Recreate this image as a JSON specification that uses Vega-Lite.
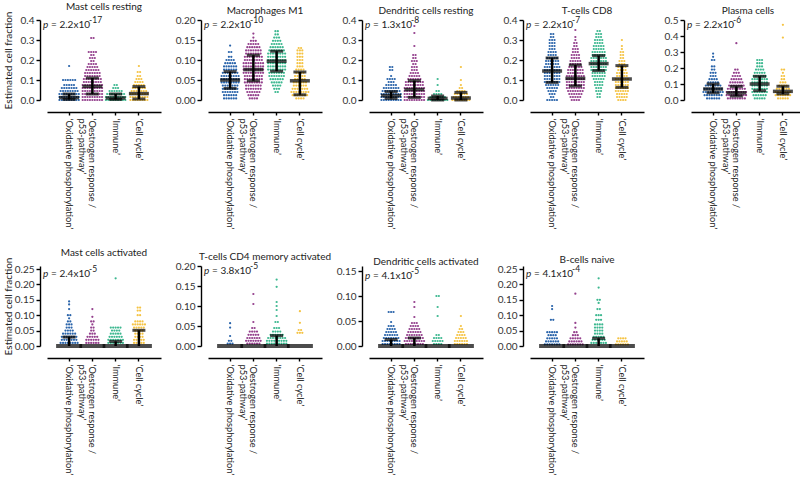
{
"$schema":"https://vega.github.io/schema/vega-lite/v6.json",
"padding":{"left":3,"top":2,"right":0,"bottom":0},
"autosize":{"type":"pad"},
"background":"white",
"datasets":{
"meta":[
{"p":"MR","base":"= 2.2x10","ex":"-17"},
{"p":"MD","base":"= 2.2x10","ex":"-10"},
{"p":"DR","base":"= 1.3x10","ex":"-8"},
{"p":"TC8","base":"= 2.2x10","ex":"-7"},
{"p":"PC","base":"= 2.2x10","ex":"-6"},
{"p":"MA","base":"= 2.4x10","ex":"-5"},
{"p":"TCM","base":"= 3.8x10","ex":"-5"},
{"p":"DA","base":"= 4.1x10","ex":"-5"},
{"p":"BN","base":"= 4.1x10","ex":"-4"}
],
"st":[
{"p":"MR","g":"O","q1":0.003,"med":0.012,"q3":0.03},
{"p":"MR","g":"E","q1":0.03,"med":0.068,"q3":0.11},
{"p":"MR","g":"I","q1":0.003,"med":0.01,"q3":0.03},
{"p":"MR","g":"C","q1":0.005,"med":0.032,"q3":0.067},
{"p":"MD","g":"O","q1":0.029,"med":0.05,"q3":0.071},
{"p":"MD","g":"E","q1":0.048,"med":0.076,"q3":0.112},
{"p":"MD","g":"I","q1":0.072,"med":0.097,"q3":0.122},
{"p":"MD","g":"C","q1":0.013,"med":0.048,"q3":0.07},
{"p":"DR","g":"O","q1":0.008,"med":0.022,"q3":0.042},
{"p":"DR","g":"E","q1":0.013,"med":0.052,"q3":0.097},
{"p":"DR","g":"I","q1":0,"med":0.008,"q3":0.02},
{"p":"DR","g":"C","q1":0,"med":0.01,"q3":0.038},
{"p":"TC8","g":"O","q1":0.088,"med":0.145,"q3":0.21},
{"p":"TC8","g":"E","q1":0.07,"med":0.108,"q3":0.175},
{"p":"TC8","g":"I","q1":0.147,"med":0.182,"q3":0.222},
{"p":"TC8","g":"C","q1":0.063,"med":0.105,"q3":0.172},
{"p":"PC","g":"O","q1":0.045,"med":0.068,"q3":0.1},
{"p":"PC","g":"E","q1":0.025,"med":0.045,"q3":0.085},
{"p":"PC","g":"I","q1":0.058,"med":0.1,"q3":0.148},
{"p":"PC","g":"C","q1":0.038,"med":0.054,"q3":0.086},
{"p":"MA","g":"O","q1":0,"med":0,"q3":0.029},
{"p":"MA","g":"E","q1":0,"med":0,"q3":0},
{"p":"MA","g":"I","q1":0,"med":0,"q3":0.015},
{"p":"MA","g":"C","q1":0,"med":0,"q3":0.051},
{"p":"TCM","g":"O","q1":0,"med":0,"q3":0},
{"p":"TCM","g":"E","q1":0,"med":0,"q3":0},
{"p":"TCM","g":"I","q1":0,"med":0,"q3":0.026},
{"p":"TCM","g":"C","q1":0,"med":0,"q3":0},
{"p":"DA","g":"O","q1":0,"med":0,"q3":0.013},
{"p":"DA","g":"E","q1":0,"med":0,"q3":0.016},
{"p":"DA","g":"I","q1":0,"med":0,"q3":0},
{"p":"DA","g":"C","q1":0,"med":0,"q3":0},
{"p":"BN","g":"O","q1":0,"med":0,"q3":0},
{"p":"BN","g":"E","q1":0,"med":0,"q3":0},
{"p":"BN","g":"I","q1":0,"med":0,"q3":0.025},
{"p":"BN","g":"C","q1":0,"med":0,"q3":0}
],
"pts":[
{"p":"MR","g":"O","v":[0,0,0,0,0,0,0,0,0,0.015,0.015,0.015,0.015,0.015,0.015,0.015,0.015,0.015,0.03,0.03,0.03,0.03,0.03,0.03,0.03,0.03,0.03,0.045,0.045,0.045,0.045,0.045,0.045,0.045,0.045,0.06,0.06,0.06,0.06,0.06,0.06,0.06,0.075,0.075,0.075,0.075,0.075,0.1,0.1,0.1,0.1,0.1,0.1,0.17]},
{"p":"MR","g":"E","v":[0,0,0,0,0,0,0,0,0,0.015,0.015,0.015,0.015,0.015,0.015,0.015,0.015,0.015,0.03,0.03,0.03,0.03,0.03,0.03,0.03,0.03,0.03,0.045,0.045,0.045,0.045,0.045,0.045,0.045,0.045,0.045,0.06,0.06,0.06,0.06,0.06,0.06,0.06,0.06,0.06,0.075,0.075,0.075,0.075,0.075,0.075,0.075,0.075,0.075,0.09,0.09,0.09,0.09,0.09,0.09,0.09,0.09,0.105,0.105,0.105,0.105,0.105,0.105,0.105,0.105,0.12,0.12,0.12,0.12,0.12,0.12,0.12,0.135,0.135,0.135,0.135,0.135,0.135,0.135,0.15,0.15,0.15,0.15,0.15,0.15,0.165,0.165,0.165,0.165,0.165,0.18,0.18,0.18,0.18,0.195,0.195,0.21,0.21,0.21,0.225,0.225,0.24,0.24,0.24,0.24,0.31,0.31]},
{"p":"MR","g":"I","v":[0,0,0,0,0,0,0,0,0,0.015,0.015,0.015,0.015,0.015,0.015,0.015,0.015,0.015,0.03,0.03,0.03,0.03,0.03,0.03,0.03,0.03,0.045,0.045,0.045,0.045,0.045,0.045,0.06,0.06,0.06,0.075,0.075]},
{"p":"MR","g":"C","v":[0,0,0,0,0,0,0,0,0.015,0.015,0.015,0.015,0.015,0.015,0.015,0.015,0.03,0.03,0.03,0.03,0.03,0.03,0.03,0.03,0.045,0.045,0.045,0.045,0.045,0.045,0.045,0.06,0.06,0.06,0.06,0.06,0.06,0.075,0.075,0.075,0.075,0.075,0.09,0.09,0.09,0.09,0.105,0.105,0.105,0.12,0.12,0.14,0.14,0.17]},
{"p":"MD","g":"O","v":[0.004,0.004,0.004,0.004,0.004,0.004,0.012,0.012,0.012,0.012,0.012,0.012,0.02,0.02,0.02,0.02,0.02,0.02,0.02,0.028,0.028,0.028,0.028,0.028,0.028,0.028,0.036,0.036,0.036,0.036,0.036,0.036,0.036,0.044,0.044,0.044,0.044,0.044,0.044,0.044,0.044,0.052,0.052,0.052,0.052,0.052,0.052,0.052,0.052,0.06,0.06,0.06,0.06,0.06,0.06,0.06,0.06,0.068,0.068,0.068,0.068,0.068,0.068,0.068,0.076,0.076,0.076,0.076,0.076,0.076,0.084,0.084,0.084,0.084,0.084,0.084,0.092,0.092,0.092,0.092,0.092,0.1,0.1,0.1,0.1,0.108,0.108,0.12,0.12,0.136]},
{"p":"MD","g":"E","v":[0.004,0.004,0.004,0.004,0.012,0.012,0.012,0.012,0.012,0.02,0.02,0.02,0.02,0.02,0.02,0.028,0.028,0.028,0.028,0.028,0.028,0.028,0.036,0.036,0.036,0.036,0.036,0.036,0.036,0.044,0.044,0.044,0.044,0.044,0.044,0.044,0.044,0.052,0.052,0.052,0.052,0.052,0.052,0.052,0.052,0.06,0.06,0.06,0.06,0.06,0.06,0.06,0.06,0.068,0.068,0.068,0.068,0.068,0.068,0.068,0.068,0.068,0.076,0.076,0.076,0.076,0.076,0.076,0.076,0.076,0.076,0.084,0.084,0.084,0.084,0.084,0.084,0.084,0.084,0.084,0.092,0.092,0.092,0.092,0.092,0.092,0.092,0.092,0.092,0.1,0.1,0.1,0.1,0.1,0.1,0.1,0.1,0.108,0.108,0.108,0.108,0.108,0.108,0.108,0.108,0.116,0.116,0.116,0.116,0.116,0.116,0.116,0.124,0.124,0.124,0.124,0.124,0.124,0.124,0.132,0.132,0.132,0.132,0.132,0.132,0.14,0.14,0.14,0.14,0.14,0.148,0.148,0.148,0.156,0.166]},
{"p":"MD","g":"I","v":[0.02,0.02,0.028,0.028,0.028,0.036,0.036,0.036,0.036,0.044,0.044,0.044,0.044,0.044,0.052,0.052,0.052,0.052,0.052,0.052,0.06,0.06,0.06,0.06,0.06,0.06,0.06,0.068,0.068,0.068,0.068,0.068,0.068,0.068,0.076,0.076,0.076,0.076,0.076,0.076,0.076,0.076,0.084,0.084,0.084,0.084,0.084,0.084,0.084,0.084,0.092,0.092,0.092,0.092,0.092,0.092,0.092,0.092,0.1,0.1,0.1,0.1,0.1,0.1,0.1,0.1,0.108,0.108,0.108,0.108,0.108,0.108,0.108,0.108,0.116,0.116,0.116,0.116,0.116,0.116,0.116,0.116,0.124,0.124,0.124,0.124,0.124,0.124,0.124,0.132,0.132,0.132,0.132,0.132,0.132,0.14,0.14,0.14,0.14,0.14,0.148,0.148,0.148,0.148,0.156,0.156,0.156,0.164,0.164,0.172,0.172]},
{"p":"MD","g":"C","v":[0.004,0.004,0.004,0.004,0.012,0.012,0.012,0.012,0.012,0.012,0.012,0.02,0.02,0.02,0.02,0.02,0.02,0.02,0.02,0.028,0.028,0.028,0.028,0.028,0.028,0.028,0.036,0.036,0.036,0.036,0.036,0.036,0.044,0.044,0.044,0.044,0.044,0.044,0.052,0.052,0.052,0.052,0.052,0.06,0.06,0.06,0.06,0.06,0.068,0.068,0.068,0.068,0.076,0.076,0.076,0.076,0.084,0.084,0.084,0.092,0.092,0.092,0.1,0.1,0.1,0.108,0.108,0.108,0.116,0.116,0.116,0.124,0.124,0.124,0.13,0.13]},
{"p":"DR","g":"O","v":[0,0,0,0,0,0,0,0,0,0.015,0.015,0.015,0.015,0.015,0.015,0.015,0.015,0.015,0.03,0.03,0.03,0.03,0.03,0.03,0.03,0.03,0.03,0.045,0.045,0.045,0.045,0.045,0.045,0.045,0.045,0.06,0.06,0.06,0.06,0.06,0.06,0.06,0.075,0.075,0.075,0.075,0.075,0.09,0.09,0.09,0.105,0.105,0.105,0.105,0.12,0.15,0.15,0.165,0.165]},
{"p":"DR","g":"E","v":[0,0,0,0,0,0,0,0,0,0.015,0.015,0.015,0.015,0.015,0.015,0.015,0.015,0.015,0.03,0.03,0.03,0.03,0.03,0.03,0.03,0.03,0.03,0.045,0.045,0.045,0.045,0.045,0.045,0.045,0.045,0.045,0.06,0.06,0.06,0.06,0.06,0.06,0.06,0.06,0.06,0.075,0.075,0.075,0.075,0.075,0.075,0.075,0.075,0.09,0.09,0.09,0.09,0.09,0.09,0.09,0.09,0.105,0.105,0.105,0.105,0.105,0.105,0.12,0.12,0.12,0.12,0.12,0.135,0.135,0.135,0.135,0.15,0.15,0.15,0.165,0.165,0.165,0.18,0.18,0.195,0.195,0.195,0.21,0.21,0.225,0.225,0.27,0.335,0.37]},
{"p":"DR","g":"I","v":[0,0,0,0,0,0,0,0,0,0.015,0.015,0.015,0.015,0.015,0.015,0.015,0.03,0.03,0.03,0.03,0.045,0.045,0.075,0.105]},
{"p":"DR","g":"C","v":[0,0,0,0,0,0,0,0,0.015,0.015,0.015,0.015,0.015,0.015,0.015,0.03,0.03,0.03,0.03,0.03,0.03,0.045,0.045,0.045,0.045,0.06,0.06,0.075,0.1,0.165]},
{"p":"TC8","g":"O","v":[0,0,0,0,0,0.015,0.015,0.03,0.03,0.03,0.045,0.045,0.045,0.045,0.06,0.06,0.06,0.06,0.06,0.075,0.075,0.075,0.075,0.075,0.075,0.09,0.09,0.09,0.09,0.09,0.09,0.09,0.105,0.105,0.105,0.105,0.105,0.105,0.105,0.12,0.12,0.12,0.12,0.12,0.12,0.12,0.135,0.135,0.135,0.135,0.135,0.135,0.135,0.15,0.15,0.15,0.15,0.15,0.15,0.15,0.165,0.165,0.165,0.165,0.165,0.165,0.165,0.18,0.18,0.18,0.18,0.18,0.18,0.195,0.195,0.195,0.195,0.195,0.195,0.21,0.21,0.21,0.21,0.21,0.225,0.225,0.225,0.225,0.24,0.24,0.24,0.24,0.255,0.255,0.255,0.27,0.27,0.27,0.285,0.285,0.285,0.3,0.3,0.3,0.315,0.315,0.33,0.33]},
{"p":"TC8","g":"E","v":[0,0,0,0,0.015,0.015,0.015,0.015,0.015,0.03,0.03,0.03,0.03,0.03,0.03,0.045,0.045,0.045,0.045,0.045,0.045,0.045,0.06,0.06,0.06,0.06,0.06,0.06,0.06,0.06,0.075,0.075,0.075,0.075,0.075,0.075,0.075,0.075,0.09,0.09,0.09,0.09,0.09,0.09,0.09,0.09,0.105,0.105,0.105,0.105,0.105,0.105,0.105,0.105,0.12,0.12,0.12,0.12,0.12,0.12,0.12,0.12,0.135,0.135,0.135,0.135,0.135,0.135,0.135,0.15,0.15,0.15,0.15,0.15,0.15,0.15,0.165,0.165,0.165,0.165,0.165,0.165,0.18,0.18,0.18,0.18,0.18,0.195,0.195,0.195,0.195,0.195,0.21,0.21,0.21,0.21,0.225,0.225,0.225,0.225,0.24,0.24,0.24,0.255,0.255,0.255,0.27,0.27,0.285,0.285,0.3,0.315,0.35]},
{"p":"TC8","g":"I","v":[0.015,0.015,0.03,0.03,0.045,0.045,0.045,0.06,0.06,0.06,0.075,0.075,0.075,0.075,0.09,0.09,0.09,0.09,0.105,0.105,0.105,0.105,0.105,0.12,0.12,0.12,0.12,0.12,0.12,0.135,0.135,0.135,0.135,0.135,0.135,0.15,0.15,0.15,0.15,0.15,0.15,0.15,0.165,0.165,0.165,0.165,0.165,0.165,0.165,0.18,0.18,0.18,0.18,0.18,0.18,0.18,0.195,0.195,0.195,0.195,0.195,0.195,0.195,0.21,0.21,0.21,0.21,0.21,0.21,0.21,0.225,0.225,0.225,0.225,0.225,0.225,0.24,0.24,0.24,0.24,0.24,0.24,0.255,0.255,0.255,0.255,0.255,0.27,0.27,0.27,0.27,0.27,0.285,0.285,0.285,0.285,0.3,0.3,0.3,0.3,0.315,0.315,0.315,0.33,0.33,0.33,0.345,0.345]},
{"p":"TC8","g":"C","v":[0,0,0,0,0.015,0.015,0.015,0.015,0.015,0.03,0.03,0.03,0.03,0.03,0.045,0.045,0.045,0.045,0.045,0.045,0.06,0.06,0.06,0.06,0.06,0.06,0.075,0.075,0.075,0.075,0.075,0.075,0.09,0.09,0.09,0.09,0.09,0.09,0.105,0.105,0.105,0.105,0.105,0.105,0.12,0.12,0.12,0.12,0.12,0.135,0.135,0.135,0.135,0.135,0.15,0.15,0.15,0.15,0.165,0.165,0.165,0.165,0.18,0.18,0.18,0.195,0.195,0.195,0.21,0.21,0.225,0.225,0.24,0.24,0.255,0.27,0.3]},
{"p":"PC","g":"O","v":[0.01,0.01,0.01,0.01,0.01,0.01,0.03,0.03,0.03,0.03,0.03,0.03,0.03,0.03,0.05,0.05,0.05,0.05,0.05,0.05,0.05,0.05,0.05,0.07,0.07,0.07,0.07,0.07,0.07,0.07,0.07,0.09,0.09,0.09,0.09,0.09,0.09,0.09,0.11,0.11,0.11,0.11,0.11,0.13,0.13,0.13,0.13,0.15,0.15,0.15,0.17,0.17,0.17,0.19,0.19,0.21,0.21,0.25,0.25,0.27,0.29]},
{"p":"PC","g":"E","v":[0.01,0.01,0.01,0.01,0.01,0.01,0.01,0.01,0.03,0.03,0.03,0.03,0.03,0.03,0.03,0.03,0.03,0.05,0.05,0.05,0.05,0.05,0.05,0.05,0.05,0.05,0.07,0.07,0.07,0.07,0.07,0.07,0.07,0.07,0.09,0.09,0.09,0.09,0.09,0.09,0.09,0.11,0.11,0.11,0.11,0.11,0.11,0.13,0.13,0.13,0.13,0.13,0.15,0.15,0.15,0.15,0.17,0.17,0.17,0.19,0.19,0.355]},
{"p":"PC","g":"I","v":[0.01,0.01,0.01,0.01,0.01,0.03,0.03,0.03,0.03,0.03,0.03,0.05,0.05,0.05,0.05,0.05,0.05,0.05,0.07,0.07,0.07,0.07,0.07,0.07,0.07,0.09,0.09,0.09,0.09,0.09,0.09,0.09,0.11,0.11,0.11,0.11,0.11,0.11,0.11,0.13,0.13,0.13,0.13,0.13,0.13,0.13,0.15,0.15,0.15,0.15,0.15,0.15,0.17,0.17,0.17,0.17,0.17,0.19,0.19,0.19,0.19,0.21,0.21,0.21,0.23,0.23,0.23,0.25,0.25,0.25]},
{"p":"PC","g":"C","v":[0.01,0.01,0.01,0.01,0.01,0.03,0.03,0.03,0.03,0.03,0.03,0.03,0.05,0.05,0.05,0.05,0.05,0.05,0.05,0.07,0.07,0.07,0.07,0.07,0.07,0.09,0.09,0.09,0.09,0.11,0.11,0.11,0.13,0.13,0.15,0.15,0.17,0.19,0.19,0.39,0.47]},
{"p":"MA","g":"O","v":[0.01,0.01,0.01,0.01,0.01,0.01,0.01,0.01,0.02,0.02,0.02,0.02,0.02,0.02,0.02,0.03,0.03,0.03,0.03,0.03,0.03,0.03,0.04,0.04,0.04,0.04,0.04,0.04,0.05,0.05,0.05,0.05,0.06,0.06,0.06,0.07,0.07,0.07,0.08,0.08,0.09,0.1,0.1,0.12,0.135,0.145]},
{"p":"MA","g":"E","v":[0.01,0.01,0.01,0.01,0.01,0.01,0.02,0.02,0.02,0.02,0.02,0.02,0.03,0.03,0.03,0.03,0.03,0.04,0.04,0.04,0.05,0.05,0.06,0.06,0.07,0.08,0.08,0.095,0.12]},
{"p":"MA","g":"I","v":[0.01,0.01,0.01,0.01,0.01,0.01,0.01,0.02,0.02,0.02,0.02,0.02,0.02,0.02,0.03,0.03,0.03,0.03,0.03,0.03,0.04,0.04,0.04,0.04,0.04,0.05,0.05,0.05,0.05,0.06,0.06,0.06,0.06,0.06,0.22]},
{"p":"MA","g":"C","v":[0.01,0.01,0.01,0.01,0.01,0.02,0.02,0.02,0.02,0.02,0.03,0.03,0.03,0.03,0.04,0.04,0.04,0.04,0.05,0.05,0.05,0.05,0.06,0.06,0.06,0.06,0.06,0.07,0.07,0.07,0.07,0.07,0.07,0.08,0.08,0.08,0.08,0.1,0.1,0.115,0.115,0.125,0.125]},
{"p":"TCM","g":"O","v":[0.006,0.006,0.006,0.013,0.013,0.025,0.046,0.057]},
{"p":"TCM","g":"E","v":[0.006,0.006,0.006,0.006,0.006,0.006,0.013,0.013,0.013,0.013,0.013,0.013,0.013,0.02,0.02,0.02,0.02,0.02,0.02,0.028,0.028,0.028,0.028,0.028,0.036,0.036,0.036,0.036,0.045,0.045,0.06,0.105,0.13]},
{"p":"TCM","g":"I","v":[0.006,0.006,0.006,0.006,0.006,0.006,0.006,0.006,0.006,0.013,0.013,0.013,0.013,0.013,0.013,0.013,0.013,0.013,0.02,0.02,0.02,0.02,0.02,0.02,0.02,0.02,0.028,0.028,0.028,0.028,0.028,0.028,0.036,0.036,0.036,0.036,0.045,0.045,0.045,0.06,0.06,0.075,0.09,0.1,0.11,0.148,0.166]},
{"p":"TCM","g":"C","v":[0.033,0.033,0.033,0.04,0.04,0.058,0.087]},
{"p":"DA","g":"O","v":[0.004,0.004,0.004,0.004,0.004,0.004,0.004,0.004,0.01,0.01,0.01,0.01,0.01,0.01,0.01,0.01,0.016,0.016,0.016,0.016,0.016,0.016,0.016,0.022,0.022,0.022,0.022,0.022,0.022,0.028,0.028,0.028,0.028,0.028,0.034,0.034,0.034,0.034,0.04,0.04,0.04,0.048,0.068,0.068,0.068]},
{"p":"DA","g":"E","v":[0.004,0.004,0.004,0.004,0.004,0.004,0.004,0.004,0.01,0.01,0.01,0.01,0.01,0.01,0.01,0.01,0.01,0.016,0.016,0.016,0.016,0.016,0.016,0.016,0.016,0.022,0.022,0.022,0.022,0.022,0.022,0.022,0.028,0.028,0.028,0.028,0.028,0.028,0.034,0.034,0.034,0.034,0.034,0.04,0.04,0.04,0.04,0.046,0.046,0.046,0.058,0.078,0.088]},
{"p":"DA","g":"I","v":[0.004,0.004,0.004,0.004,0.01,0.01,0.01,0.01,0.01,0.016,0.016,0.016,0.016,0.022,0.022,0.06,0.078,0.1,0.1]},
{"p":"DA","g":"C","v":[0.004,0.004,0.004,0.004,0.004,0.004,0.01,0.01,0.01,0.01,0.01,0.01,0.016,0.016,0.016,0.016,0.016,0.022,0.022,0.022,0.022,0.028,0.028,0.028,0.034,0.034,0.04,0.06]},
{"p":"BN","g":"O","v":[0.005,0.005,0.005,0.005,0.005,0.005,0.005,0.015,0.015,0.015,0.015,0.015,0.015,0.025,0.025,0.025,0.025,0.025,0.035,0.035,0.035,0.035,0.045,0.045,0.045,0.045,0.045,0.085,0.085,0.12,0.13]},
{"p":"BN","g":"E","v":[0.005,0.005,0.005,0.005,0.005,0.005,0.005,0.015,0.015,0.015,0.015,0.015,0.015,0.025,0.025,0.025,0.025,0.025,0.035,0.035,0.035,0.045,0.045,0.06,0.075,0.17]},
{"p":"BN","g":"I","v":[0.01,0.01,0.01,0.01,0.01,0.01,0.01,0.02,0.02,0.02,0.02,0.02,0.02,0.03,0.03,0.03,0.03,0.03,0.04,0.04,0.04,0.04,0.05,0.05,0.05,0.05,0.06,0.06,0.06,0.06,0.07,0.07,0.07,0.07,0.085,0.085,0.085,0.1,0.1,0.1,0.12,0.12,0.14,0.15,0.15,0.19,0.22]},
{"p":"BN","g":"C","v":[0.005,0.005,0.005,0.005,0.005,0.005,0.015,0.015,0.015,0.015,0.015,0.025,0.025,0.025,0.025]}
]
},
"vconcat":[
{"hconcat":[
{"width":114,"height":80,"title":"Mast cells resting","resolve":{"axis":{"y":"independent"}},"layer":[
{"data":{"name":"pts"},"transform":[{"filter":"datum.p=='MR'"},{"flatten":["v"]},{"window":[{"op":"row_number","as":"i"},{"op":"count","as":"n"}],"groupby":["g","v"],"frame":[null,null]},{"calculate":"datum.i-(datum.n+1)/2","as":"off"}],"mark":{"type":"circle","size":5,"opacity":1},"encoding":{"x":{"field":"g","type":"nominal","scale":{"domain":["O","E","I","C"],"paddingInner":0,"paddingOuter":0.45},"axis":{"title":null,"labelExpr":"datum.value=='O'?'‘Oxidative phosphorylation’':datum.value=='E'?['‘Oestrogen response /','p53-pathway’']:datum.value=='I'?'‘Immune’':'‘Cell cycle’'"}},"xOffset":{"field":"off","type":"quantitative","scale":{"domain":[-4.8,4.8]}},"y":{"field":"v","type":"quantitative","scale":{"domain":[0,0.4]},"axis":{"values":[0,0.1,0.2,0.3,0.4],"format":".1f","title":"Estimated cell fraction","titleX":-27,"titleY":40,"titleAngle":-90,"titleAlign":"center","titleBaseline":"bottom"}},"color":{"field":"g","type":"nominal","scale":{"domain":["O","E","I","C"],"range":["#2a64aa","#94408d","#3db890","#f5c343"]},"legend":null}}},
{"data":{"name":"st"},"transform":[{"filter":"datum.p=='MR' && datum.q3>0"}],"mark":{"type":"rule","color":"#000","strokeWidth":2.5},"encoding":{"x":{"field":"g","type":"nominal"},"y":{"field":"q1","type":"quantitative","axis":null},"y2":{"field":"q3"}}},
{"data":{"name":"st"},"transform":[{"filter":"datum.p=='MR' && datum.q3>0"}],"mark":{"type":"tick","color":"#000","size":13,"thickness":3},"encoding":{"x":{"field":"g","type":"nominal"},"y":{"field":"q1","type":"quantitative","axis":null}}},
{"data":{"name":"st"},"transform":[{"filter":"datum.p=='MR' && datum.q3>0"}],"mark":{"type":"tick","color":"#000","size":13,"thickness":3},"encoding":{"x":{"field":"g","type":"nominal"},"y":{"field":"q3","type":"quantitative","axis":null}}},
{"data":{"name":"st"},"transform":[{"filter":"datum.p=='MR'"}],"mark":{"type":"tick","color":"#000","size":20,"thickness":3.5},"encoding":{"x":{"field":"g","type":"nominal"},"y":{"field":"med","type":"quantitative","axis":null}}},
{"data":{"name":"meta"},"transform":[{"filter":"datum.p=='MR'"}],"mark":{"type":"text","align":"left","baseline":"middle","fontStyle":"italic","fontSize":10,"color":"#222","dx":-26,"dy":5},"encoding":{"x":{"datum":"O","type":"nominal"},"y":{"datum":0.4,"type":"quantitative","axis":null},"text":{"value":"p"}}},
{"data":{"name":"meta"},"transform":[{"filter":"datum.p=='MR'"}],"mark":{"type":"text","align":"left","baseline":"middle","fontSize":10,"color":"#222","dx":-18,"dy":5},"encoding":{"x":{"datum":"O","type":"nominal"},"y":{"datum":0.4,"type":"quantitative","axis":null},"text":{"field":"base"}}},
{"data":{"name":"meta"},"transform":[{"filter":"datum.p=='MR'"}],"mark":{"type":"text","align":"left","baseline":"middle","fontSize":8.5,"color":"#222","dx":20,"dy":0},"encoding":{"x":{"datum":"O","type":"nominal"},"y":{"datum":0.4,"type":"quantitative","axis":null},"text":{"field":"ex"}}}
]},
{"width":114,"height":80,"title":"Macrophages M1","resolve":{"axis":{"y":"independent"}},"layer":[
{"data":{"name":"pts"},"transform":[{"filter":"datum.p=='MD'"},{"flatten":["v"]},{"window":[{"op":"row_number","as":"i"},{"op":"count","as":"n"}],"groupby":["g","v"],"frame":[null,null]},{"calculate":"datum.i-(datum.n+1)/2","as":"off"}],"mark":{"type":"circle","size":5,"opacity":1},"encoding":{"x":{"field":"g","type":"nominal","scale":{"domain":["O","E","I","C"],"paddingInner":0,"paddingOuter":0.45},"axis":{"title":null,"labelExpr":"datum.value=='O'?'‘Oxidative phosphorylation’':datum.value=='E'?['‘Oestrogen response /','p53-pathway’']:datum.value=='I'?'‘Immune’':'‘Cell cycle’'"}},"xOffset":{"field":"off","type":"quantitative","scale":{"domain":[-4.8,4.8]}},"y":{"field":"v","type":"quantitative","scale":{"domain":[0,0.2]},"axis":{"values":[0,0.05,0.1,0.15,0.2],"format":".2f","title":null}},"color":{"field":"g","type":"nominal","scale":{"domain":["O","E","I","C"],"range":["#2a64aa","#94408d","#3db890","#f5c343"]},"legend":null}}},
{"data":{"name":"st"},"transform":[{"filter":"datum.p=='MD' && datum.q3>0"}],"mark":{"type":"rule","color":"#000","strokeWidth":2.5},"encoding":{"x":{"field":"g","type":"nominal"},"y":{"field":"q1","type":"quantitative","axis":null},"y2":{"field":"q3"}}},
{"data":{"name":"st"},"transform":[{"filter":"datum.p=='MD' && datum.q3>0"}],"mark":{"type":"tick","color":"#000","size":13,"thickness":3},"encoding":{"x":{"field":"g","type":"nominal"},"y":{"field":"q1","type":"quantitative","axis":null}}},
{"data":{"name":"st"},"transform":[{"filter":"datum.p=='MD' && datum.q3>0"}],"mark":{"type":"tick","color":"#000","size":13,"thickness":3},"encoding":{"x":{"field":"g","type":"nominal"},"y":{"field":"q3","type":"quantitative","axis":null}}},
{"data":{"name":"st"},"transform":[{"filter":"datum.p=='MD'"}],"mark":{"type":"tick","color":"#000","size":20,"thickness":3.5},"encoding":{"x":{"field":"g","type":"nominal"},"y":{"field":"med","type":"quantitative","axis":null}}},
{"data":{"name":"meta"},"transform":[{"filter":"datum.p=='MD'"}],"mark":{"type":"text","align":"left","baseline":"middle","fontStyle":"italic","fontSize":10,"color":"#222","dx":-26,"dy":5},"encoding":{"x":{"datum":"O","type":"nominal"},"y":{"datum":0.2,"type":"quantitative","axis":null},"text":{"value":"p"}}},
{"data":{"name":"meta"},"transform":[{"filter":"datum.p=='MD'"}],"mark":{"type":"text","align":"left","baseline":"middle","fontSize":10,"color":"#222","dx":-18,"dy":5},"encoding":{"x":{"datum":"O","type":"nominal"},"y":{"datum":0.2,"type":"quantitative","axis":null},"text":{"field":"base"}}},
{"data":{"name":"meta"},"transform":[{"filter":"datum.p=='MD'"}],"mark":{"type":"text","align":"left","baseline":"middle","fontSize":8.5,"color":"#222","dx":20,"dy":0},"encoding":{"x":{"datum":"O","type":"nominal"},"y":{"datum":0.2,"type":"quantitative","axis":null},"text":{"field":"ex"}}}
]},
{"width":114,"height":80,"title":"Dendritic cells resting","resolve":{"axis":{"y":"independent"}},"layer":[
{"data":{"name":"pts"},"transform":[{"filter":"datum.p=='DR'"},{"flatten":["v"]},{"window":[{"op":"row_number","as":"i"},{"op":"count","as":"n"}],"groupby":["g","v"],"frame":[null,null]},{"calculate":"datum.i-(datum.n+1)/2","as":"off"}],"mark":{"type":"circle","size":5,"opacity":1},"encoding":{"x":{"field":"g","type":"nominal","scale":{"domain":["O","E","I","C"],"paddingInner":0,"paddingOuter":0.45},"axis":{"title":null,"labelExpr":"datum.value=='O'?'‘Oxidative phosphorylation’':datum.value=='E'?['‘Oestrogen response /','p53-pathway’']:datum.value=='I'?'‘Immune’':'‘Cell cycle’'"}},"xOffset":{"field":"off","type":"quantitative","scale":{"domain":[-4.8,4.8]}},"y":{"field":"v","type":"quantitative","scale":{"domain":[0,0.4]},"axis":{"values":[0,0.1,0.2,0.3,0.4],"format":".1f","title":null}},"color":{"field":"g","type":"nominal","scale":{"domain":["O","E","I","C"],"range":["#2a64aa","#94408d","#3db890","#f5c343"]},"legend":null}}},
{"data":{"name":"st"},"transform":[{"filter":"datum.p=='DR' && datum.q3>0"}],"mark":{"type":"rule","color":"#000","strokeWidth":2.5},"encoding":{"x":{"field":"g","type":"nominal"},"y":{"field":"q1","type":"quantitative","axis":null},"y2":{"field":"q3"}}},
{"data":{"name":"st"},"transform":[{"filter":"datum.p=='DR' && datum.q3>0"}],"mark":{"type":"tick","color":"#000","size":13,"thickness":3},"encoding":{"x":{"field":"g","type":"nominal"},"y":{"field":"q1","type":"quantitative","axis":null}}},
{"data":{"name":"st"},"transform":[{"filter":"datum.p=='DR' && datum.q3>0"}],"mark":{"type":"tick","color":"#000","size":13,"thickness":3},"encoding":{"x":{"field":"g","type":"nominal"},"y":{"field":"q3","type":"quantitative","axis":null}}},
{"data":{"name":"st"},"transform":[{"filter":"datum.p=='DR'"}],"mark":{"type":"tick","color":"#000","size":20,"thickness":3.5},"encoding":{"x":{"field":"g","type":"nominal"},"y":{"field":"med","type":"quantitative","axis":null}}},
{"data":{"name":"meta"},"transform":[{"filter":"datum.p=='DR'"}],"mark":{"type":"text","align":"left","baseline":"middle","fontStyle":"italic","fontSize":10,"color":"#222","dx":-26,"dy":5},"encoding":{"x":{"datum":"O","type":"nominal"},"y":{"datum":0.4,"type":"quantitative","axis":null},"text":{"value":"p"}}},
{"data":{"name":"meta"},"transform":[{"filter":"datum.p=='DR'"}],"mark":{"type":"text","align":"left","baseline":"middle","fontSize":10,"color":"#222","dx":-18,"dy":5},"encoding":{"x":{"datum":"O","type":"nominal"},"y":{"datum":0.4,"type":"quantitative","axis":null},"text":{"field":"base"}}},
{"data":{"name":"meta"},"transform":[{"filter":"datum.p=='DR'"}],"mark":{"type":"text","align":"left","baseline":"middle","fontSize":8.5,"color":"#222","dx":20,"dy":0},"encoding":{"x":{"datum":"O","type":"nominal"},"y":{"datum":0.4,"type":"quantitative","axis":null},"text":{"field":"ex"}}}
]},
{"width":114,"height":80,"title":"T-cells CD8","resolve":{"axis":{"y":"independent"}},"layer":[
{"data":{"name":"pts"},"transform":[{"filter":"datum.p=='TC8'"},{"flatten":["v"]},{"window":[{"op":"row_number","as":"i"},{"op":"count","as":"n"}],"groupby":["g","v"],"frame":[null,null]},{"calculate":"datum.i-(datum.n+1)/2","as":"off"}],"mark":{"type":"circle","size":5,"opacity":1},"encoding":{"x":{"field":"g","type":"nominal","scale":{"domain":["O","E","I","C"],"paddingInner":0,"paddingOuter":0.45},"axis":{"title":null,"labelExpr":"datum.value=='O'?'‘Oxidative phosphorylation’':datum.value=='E'?['‘Oestrogen response /','p53-pathway’']:datum.value=='I'?'‘Immune’':'‘Cell cycle’'"}},"xOffset":{"field":"off","type":"quantitative","scale":{"domain":[-4.8,4.8]}},"y":{"field":"v","type":"quantitative","scale":{"domain":[0,0.4]},"axis":{"values":[0,0.1,0.2,0.3,0.4],"format":".1f","title":null}},"color":{"field":"g","type":"nominal","scale":{"domain":["O","E","I","C"],"range":["#2a64aa","#94408d","#3db890","#f5c343"]},"legend":null}}},
{"data":{"name":"st"},"transform":[{"filter":"datum.p=='TC8' && datum.q3>0"}],"mark":{"type":"rule","color":"#000","strokeWidth":2.5},"encoding":{"x":{"field":"g","type":"nominal"},"y":{"field":"q1","type":"quantitative","axis":null},"y2":{"field":"q3"}}},
{"data":{"name":"st"},"transform":[{"filter":"datum.p=='TC8' && datum.q3>0"}],"mark":{"type":"tick","color":"#000","size":13,"thickness":3},"encoding":{"x":{"field":"g","type":"nominal"},"y":{"field":"q1","type":"quantitative","axis":null}}},
{"data":{"name":"st"},"transform":[{"filter":"datum.p=='TC8' && datum.q3>0"}],"mark":{"type":"tick","color":"#000","size":13,"thickness":3},"encoding":{"x":{"field":"g","type":"nominal"},"y":{"field":"q3","type":"quantitative","axis":null}}},
{"data":{"name":"st"},"transform":[{"filter":"datum.p=='TC8'"}],"mark":{"type":"tick","color":"#000","size":20,"thickness":3.5},"encoding":{"x":{"field":"g","type":"nominal"},"y":{"field":"med","type":"quantitative","axis":null}}},
{"data":{"name":"meta"},"transform":[{"filter":"datum.p=='TC8'"}],"mark":{"type":"text","align":"left","baseline":"middle","fontStyle":"italic","fontSize":10,"color":"#222","dx":-26,"dy":5},"encoding":{"x":{"datum":"O","type":"nominal"},"y":{"datum":0.4,"type":"quantitative","axis":null},"text":{"value":"p"}}},
{"data":{"name":"meta"},"transform":[{"filter":"datum.p=='TC8'"}],"mark":{"type":"text","align":"left","baseline":"middle","fontSize":10,"color":"#222","dx":-18,"dy":5},"encoding":{"x":{"datum":"O","type":"nominal"},"y":{"datum":0.4,"type":"quantitative","axis":null},"text":{"field":"base"}}},
{"data":{"name":"meta"},"transform":[{"filter":"datum.p=='TC8'"}],"mark":{"type":"text","align":"left","baseline":"middle","fontSize":8.5,"color":"#222","dx":20,"dy":0},"encoding":{"x":{"datum":"O","type":"nominal"},"y":{"datum":0.4,"type":"quantitative","axis":null},"text":{"field":"ex"}}}
]},
{"width":114,"height":80,"title":"Plasma cells","resolve":{"axis":{"y":"independent"}},"layer":[
{"data":{"name":"pts"},"transform":[{"filter":"datum.p=='PC'"},{"flatten":["v"]},{"window":[{"op":"row_number","as":"i"},{"op":"count","as":"n"}],"groupby":["g","v"],"frame":[null,null]},{"calculate":"datum.i-(datum.n+1)/2","as":"off"}],"mark":{"type":"circle","size":5,"opacity":1},"encoding":{"x":{"field":"g","type":"nominal","scale":{"domain":["O","E","I","C"],"paddingInner":0,"paddingOuter":0.45},"axis":{"title":null,"labelExpr":"datum.value=='O'?'‘Oxidative phosphorylation’':datum.value=='E'?['‘Oestrogen response /','p53-pathway’']:datum.value=='I'?'‘Immune’':'‘Cell cycle’'"}},"xOffset":{"field":"off","type":"quantitative","scale":{"domain":[-4.8,4.8]}},"y":{"field":"v","type":"quantitative","scale":{"domain":[0,0.5]},"axis":{"values":[0,0.1,0.2,0.3,0.4,0.5],"format":".1f","title":null}},"color":{"field":"g","type":"nominal","scale":{"domain":["O","E","I","C"],"range":["#2a64aa","#94408d","#3db890","#f5c343"]},"legend":null}}},
{"data":{"name":"st"},"transform":[{"filter":"datum.p=='PC' && datum.q3>0"}],"mark":{"type":"rule","color":"#000","strokeWidth":2.5},"encoding":{"x":{"field":"g","type":"nominal"},"y":{"field":"q1","type":"quantitative","axis":null},"y2":{"field":"q3"}}},
{"data":{"name":"st"},"transform":[{"filter":"datum.p=='PC' && datum.q3>0"}],"mark":{"type":"tick","color":"#000","size":13,"thickness":3},"encoding":{"x":{"field":"g","type":"nominal"},"y":{"field":"q1","type":"quantitative","axis":null}}},
{"data":{"name":"st"},"transform":[{"filter":"datum.p=='PC' && datum.q3>0"}],"mark":{"type":"tick","color":"#000","size":13,"thickness":3},"encoding":{"x":{"field":"g","type":"nominal"},"y":{"field":"q3","type":"quantitative","axis":null}}},
{"data":{"name":"st"},"transform":[{"filter":"datum.p=='PC'"}],"mark":{"type":"tick","color":"#000","size":20,"thickness":3.5},"encoding":{"x":{"field":"g","type":"nominal"},"y":{"field":"med","type":"quantitative","axis":null}}},
{"data":{"name":"meta"},"transform":[{"filter":"datum.p=='PC'"}],"mark":{"type":"text","align":"left","baseline":"middle","fontStyle":"italic","fontSize":10,"color":"#222","dx":-26,"dy":5},"encoding":{"x":{"datum":"O","type":"nominal"},"y":{"datum":0.5,"type":"quantitative","axis":null},"text":{"value":"p"}}},
{"data":{"name":"meta"},"transform":[{"filter":"datum.p=='PC'"}],"mark":{"type":"text","align":"left","baseline":"middle","fontSize":10,"color":"#222","dx":-18,"dy":5},"encoding":{"x":{"datum":"O","type":"nominal"},"y":{"datum":0.5,"type":"quantitative","axis":null},"text":{"field":"base"}}},
{"data":{"name":"meta"},"transform":[{"filter":"datum.p=='PC'"}],"mark":{"type":"text","align":"left","baseline":"middle","fontSize":8.5,"color":"#222","dx":20,"dy":0},"encoding":{"x":{"datum":"O","type":"nominal"},"y":{"datum":0.5,"type":"quantitative","axis":null},"text":{"field":"ex"}}}
]}
],"spacing":47,"bounds":"flush"},
{"hconcat":[
{"width":114,"height":80,"title":"Mast cells activated","resolve":{"axis":{"y":"independent"}},"layer":[
{"data":{"name":"pts"},"transform":[{"filter":"datum.p=='MA'"},{"flatten":["v"]},{"window":[{"op":"row_number","as":"i"},{"op":"count","as":"n"}],"groupby":["g","v"],"frame":[null,null]},{"calculate":"datum.i-(datum.n+1)/2","as":"off"}],"mark":{"type":"circle","size":5,"opacity":1},"encoding":{"x":{"field":"g","type":"nominal","scale":{"domain":["O","E","I","C"],"paddingInner":0,"paddingOuter":0.45},"axis":{"title":null,"labelExpr":"datum.value=='O'?'‘Oxidative phosphorylation’':datum.value=='E'?['‘Oestrogen response /','p53-pathway’']:datum.value=='I'?'‘Immune’':'‘Cell cycle’'"}},"xOffset":{"field":"off","type":"quantitative","scale":{"domain":[-4.8,4.8]}},"y":{"field":"v","type":"quantitative","scale":{"domain":[0,0.25]},"axis":{"values":[0,0.05,0.1,0.15,0.2,0.25],"format":".2f","title":"Estimated cell fraction","titleX":-27,"titleY":40,"titleAngle":-90,"titleAlign":"center","titleBaseline":"bottom"}},"color":{"field":"g","type":"nominal","scale":{"domain":["O","E","I","C"],"range":["#2a64aa","#94408d","#3db890","#f5c343"]},"legend":null}}},
{"data":{"name":"st"},"transform":[{"filter":"datum.p=='MA' && datum.q3>0"}],"mark":{"type":"rule","color":"#000","strokeWidth":2.5},"encoding":{"x":{"field":"g","type":"nominal"},"y":{"field":"q1","type":"quantitative","axis":null},"y2":{"field":"q3"}}},
{"data":{"name":"st"},"transform":[{"filter":"datum.p=='MA' && datum.q3>0"}],"mark":{"type":"tick","color":"#000","size":13,"thickness":3},"encoding":{"x":{"field":"g","type":"nominal"},"y":{"field":"q3","type":"quantitative","axis":null}}},
{"data":{"name":"st"},"transform":[{"filter":"datum.p=='MA'"}],"mark":{"type":"tick","color":"#000","size":26,"thickness":4},"encoding":{"x":{"field":"g","type":"nominal"},"y":{"field":"med","type":"quantitative","axis":null}}},
{"data":{"name":"meta"},"transform":[{"filter":"datum.p=='MA'"}],"mark":{"type":"text","align":"left","baseline":"middle","fontStyle":"italic","fontSize":10,"color":"#222","dx":-26,"dy":5},"encoding":{"x":{"datum":"O","type":"nominal"},"y":{"datum":0.25,"type":"quantitative","axis":null},"text":{"value":"p"}}},
{"data":{"name":"meta"},"transform":[{"filter":"datum.p=='MA'"}],"mark":{"type":"text","align":"left","baseline":"middle","fontSize":10,"color":"#222","dx":-18,"dy":5},"encoding":{"x":{"datum":"O","type":"nominal"},"y":{"datum":0.25,"type":"quantitative","axis":null},"text":{"field":"base"}}},
{"data":{"name":"meta"},"transform":[{"filter":"datum.p=='MA'"}],"mark":{"type":"text","align":"left","baseline":"middle","fontSize":8.5,"color":"#222","dx":20,"dy":0},"encoding":{"x":{"datum":"O","type":"nominal"},"y":{"datum":0.25,"type":"quantitative","axis":null},"text":{"field":"ex"}}}
]},
{"width":114,"height":80,"title":"T-cells CD4 memory activated","resolve":{"axis":{"y":"independent"}},"layer":[
{"data":{"name":"pts"},"transform":[{"filter":"datum.p=='TCM'"},{"flatten":["v"]},{"window":[{"op":"row_number","as":"i"},{"op":"count","as":"n"}],"groupby":["g","v"],"frame":[null,null]},{"calculate":"datum.i-(datum.n+1)/2","as":"off"}],"mark":{"type":"circle","size":5,"opacity":1},"encoding":{"x":{"field":"g","type":"nominal","scale":{"domain":["O","E","I","C"],"paddingInner":0,"paddingOuter":0.45},"axis":{"title":null,"labelExpr":"datum.value=='O'?'‘Oxidative phosphorylation’':datum.value=='E'?['‘Oestrogen response /','p53-pathway’']:datum.value=='I'?'‘Immune’':'‘Cell cycle’'"}},"xOffset":{"field":"off","type":"quantitative","scale":{"domain":[-4.8,4.8]}},"y":{"field":"v","type":"quantitative","scale":{"domain":[0,0.2]},"axis":{"values":[0,0.05,0.1,0.15,0.2],"format":".2f","title":null}},"color":{"field":"g","type":"nominal","scale":{"domain":["O","E","I","C"],"range":["#2a64aa","#94408d","#3db890","#f5c343"]},"legend":null}}},
{"data":{"name":"st"},"transform":[{"filter":"datum.p=='TCM' && datum.q3>0"}],"mark":{"type":"rule","color":"#000","strokeWidth":2.5},"encoding":{"x":{"field":"g","type":"nominal"},"y":{"field":"q1","type":"quantitative","axis":null},"y2":{"field":"q3"}}},
{"data":{"name":"st"},"transform":[{"filter":"datum.p=='TCM' && datum.q3>0"}],"mark":{"type":"tick","color":"#000","size":13,"thickness":3},"encoding":{"x":{"field":"g","type":"nominal"},"y":{"field":"q3","type":"quantitative","axis":null}}},
{"data":{"name":"st"},"transform":[{"filter":"datum.p=='TCM'"}],"mark":{"type":"tick","color":"#000","size":26,"thickness":4},"encoding":{"x":{"field":"g","type":"nominal"},"y":{"field":"med","type":"quantitative","axis":null}}},
{"data":{"name":"meta"},"transform":[{"filter":"datum.p=='TCM'"}],"mark":{"type":"text","align":"left","baseline":"middle","fontStyle":"italic","fontSize":10,"color":"#222","dx":-26,"dy":5},"encoding":{"x":{"datum":"O","type":"nominal"},"y":{"datum":0.2,"type":"quantitative","axis":null},"text":{"value":"p"}}},
{"data":{"name":"meta"},"transform":[{"filter":"datum.p=='TCM'"}],"mark":{"type":"text","align":"left","baseline":"middle","fontSize":10,"color":"#222","dx":-18,"dy":5},"encoding":{"x":{"datum":"O","type":"nominal"},"y":{"datum":0.2,"type":"quantitative","axis":null},"text":{"field":"base"}}},
{"data":{"name":"meta"},"transform":[{"filter":"datum.p=='TCM'"}],"mark":{"type":"text","align":"left","baseline":"middle","fontSize":8.5,"color":"#222","dx":20,"dy":0},"encoding":{"x":{"datum":"O","type":"nominal"},"y":{"datum":0.2,"type":"quantitative","axis":null},"text":{"field":"ex"}}}
]},
{"width":114,"height":80,"title":"Dendritic cells activated","resolve":{"axis":{"y":"independent"}},"layer":[
{"data":{"name":"pts"},"transform":[{"filter":"datum.p=='DA'"},{"flatten":["v"]},{"window":[{"op":"row_number","as":"i"},{"op":"count","as":"n"}],"groupby":["g","v"],"frame":[null,null]},{"calculate":"datum.i-(datum.n+1)/2","as":"off"}],"mark":{"type":"circle","size":5,"opacity":1},"encoding":{"x":{"field":"g","type":"nominal","scale":{"domain":["O","E","I","C"],"paddingInner":0,"paddingOuter":0.45},"axis":{"title":null,"labelExpr":"datum.value=='O'?'‘Oxidative phosphorylation’':datum.value=='E'?['‘Oestrogen response /','p53-pathway’']:datum.value=='I'?'‘Immune’':'‘Cell cycle’'"}},"xOffset":{"field":"off","type":"quantitative","scale":{"domain":[-4.8,4.8]}},"y":{"field":"v","type":"quantitative","scale":{"domain":[0,0.15]},"axis":{"values":[0,0.05,0.1,0.15],"format":".2f","title":null}},"color":{"field":"g","type":"nominal","scale":{"domain":["O","E","I","C"],"range":["#2a64aa","#94408d","#3db890","#f5c343"]},"legend":null}}},
{"data":{"name":"st"},"transform":[{"filter":"datum.p=='DA' && datum.q3>0"}],"mark":{"type":"rule","color":"#000","strokeWidth":2.5},"encoding":{"x":{"field":"g","type":"nominal"},"y":{"field":"q1","type":"quantitative","axis":null},"y2":{"field":"q3"}}},
{"data":{"name":"st"},"transform":[{"filter":"datum.p=='DA' && datum.q3>0"}],"mark":{"type":"tick","color":"#000","size":13,"thickness":3},"encoding":{"x":{"field":"g","type":"nominal"},"y":{"field":"q3","type":"quantitative","axis":null}}},
{"data":{"name":"st"},"transform":[{"filter":"datum.p=='DA'"}],"mark":{"type":"tick","color":"#000","size":26,"thickness":4},"encoding":{"x":{"field":"g","type":"nominal"},"y":{"field":"med","type":"quantitative","axis":null}}},
{"data":{"name":"meta"},"transform":[{"filter":"datum.p=='DA'"}],"mark":{"type":"text","align":"left","baseline":"middle","fontStyle":"italic","fontSize":10,"color":"#222","dx":-26,"dy":5},"encoding":{"x":{"datum":"O","type":"nominal"},"y":{"datum":0.15,"type":"quantitative","axis":null},"text":{"value":"p"}}},
{"data":{"name":"meta"},"transform":[{"filter":"datum.p=='DA'"}],"mark":{"type":"text","align":"left","baseline":"middle","fontSize":10,"color":"#222","dx":-18,"dy":5},"encoding":{"x":{"datum":"O","type":"nominal"},"y":{"datum":0.15,"type":"quantitative","axis":null},"text":{"field":"base"}}},
{"data":{"name":"meta"},"transform":[{"filter":"datum.p=='DA'"}],"mark":{"type":"text","align":"left","baseline":"middle","fontSize":8.5,"color":"#222","dx":20,"dy":0},"encoding":{"x":{"datum":"O","type":"nominal"},"y":{"datum":0.15,"type":"quantitative","axis":null},"text":{"field":"ex"}}}
]},
{"width":114,"height":80,"title":"B-cells naive","resolve":{"axis":{"y":"independent"}},"layer":[
{"data":{"name":"pts"},"transform":[{"filter":"datum.p=='BN'"},{"flatten":["v"]},{"window":[{"op":"row_number","as":"i"},{"op":"count","as":"n"}],"groupby":["g","v"],"frame":[null,null]},{"calculate":"datum.i-(datum.n+1)/2","as":"off"}],"mark":{"type":"circle","size":5,"opacity":1},"encoding":{"x":{"field":"g","type":"nominal","scale":{"domain":["O","E","I","C"],"paddingInner":0,"paddingOuter":0.45},"axis":{"title":null,"labelExpr":"datum.value=='O'?'‘Oxidative phosphorylation’':datum.value=='E'?['‘Oestrogen response /','p53-pathway’']:datum.value=='I'?'‘Immune’':'‘Cell cycle’'"}},"xOffset":{"field":"off","type":"quantitative","scale":{"domain":[-4.8,4.8]}},"y":{"field":"v","type":"quantitative","scale":{"domain":[0,0.25]},"axis":{"values":[0,0.05,0.1,0.15,0.2,0.25],"format":".2f","title":null}},"color":{"field":"g","type":"nominal","scale":{"domain":["O","E","I","C"],"range":["#2a64aa","#94408d","#3db890","#f5c343"]},"legend":null}}},
{"data":{"name":"st"},"transform":[{"filter":"datum.p=='BN' && datum.q3>0"}],"mark":{"type":"rule","color":"#000","strokeWidth":2.5},"encoding":{"x":{"field":"g","type":"nominal"},"y":{"field":"q1","type":"quantitative","axis":null},"y2":{"field":"q3"}}},
{"data":{"name":"st"},"transform":[{"filter":"datum.p=='BN' && datum.q3>0"}],"mark":{"type":"tick","color":"#000","size":13,"thickness":3},"encoding":{"x":{"field":"g","type":"nominal"},"y":{"field":"q3","type":"quantitative","axis":null}}},
{"data":{"name":"st"},"transform":[{"filter":"datum.p=='BN'"}],"mark":{"type":"tick","color":"#000","size":26,"thickness":4},"encoding":{"x":{"field":"g","type":"nominal"},"y":{"field":"med","type":"quantitative","axis":null}}},
{"data":{"name":"meta"},"transform":[{"filter":"datum.p=='BN'"}],"mark":{"type":"text","align":"left","baseline":"middle","fontStyle":"italic","fontSize":10,"color":"#222","dx":-26,"dy":5},"encoding":{"x":{"datum":"O","type":"nominal"},"y":{"datum":0.25,"type":"quantitative","axis":null},"text":{"value":"p"}}},
{"data":{"name":"meta"},"transform":[{"filter":"datum.p=='BN'"}],"mark":{"type":"text","align":"left","baseline":"middle","fontSize":10,"color":"#222","dx":-18,"dy":5},"encoding":{"x":{"datum":"O","type":"nominal"},"y":{"datum":0.25,"type":"quantitative","axis":null},"text":{"field":"base"}}},
{"data":{"name":"meta"},"transform":[{"filter":"datum.p=='BN'"}],"mark":{"type":"text","align":"left","baseline":"middle","fontSize":8.5,"color":"#222","dx":20,"dy":0},"encoding":{"x":{"datum":"O","type":"nominal"},"y":{"datum":0.25,"type":"quantitative","axis":null},"text":{"field":"ex"}}}
]}
],"spacing":47,"bounds":"flush"}
],
"spacing":246,
"bounds":"flush",
"config":{
"font":"Lato",
"view":{"stroke":null},
"axis":{"grid":false,"domainColor":"#000","domainWidth":1.4,"tickColor":"#000","tickWidth":1.4,"labelColor":"#333","labelFontSize":10,"titleFontSize":10,"titleFontWeight":"normal","titleColor":"#222"},
"axisX":{"labelAngle":90,"labelAlign":"left","labelBaseline":"middle","offset":12,"tickSize":3,"labelPadding":3,"labelFontSize":9.2,"labelLineHeight":10,"labelOverlap":false,"labelColor":"#222"},
"axisY":{"offset":7,"tickSize":4,"labelPadding":2,"labelOverlap":false,"labelBound":false},
"title":{"fontSize":10,"fontWeight":"normal","color":"#222","offset":-1,"frame":"group","anchor":"middle"}
}
}
